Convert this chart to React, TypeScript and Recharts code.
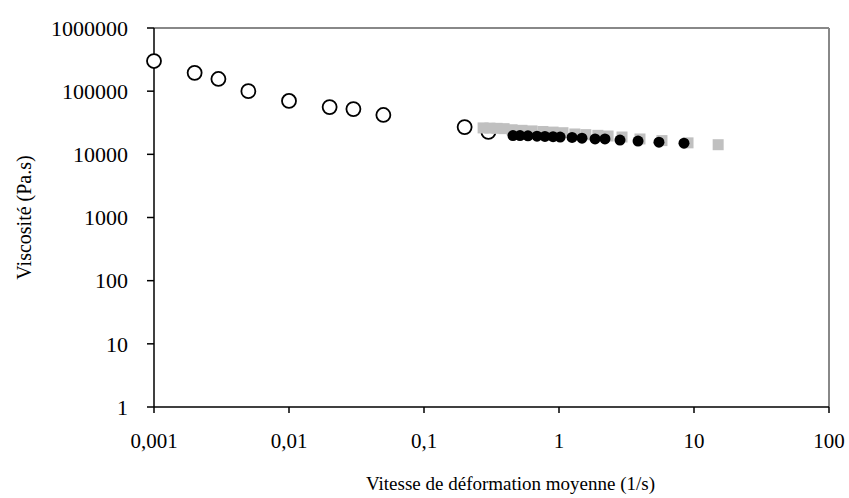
import React from 'react';
import {
  ScatterChart,
  Scatter,
  XAxis,
  YAxis,
  ReferenceLine,
} from 'recharts';

// open circles (low shear rates)
const circleRate = [0.001, 0.002, 0.003, 0.005, 0.01, 0.02, 0.03, 0.05, 0.2, 0.3];
const circleVisc = [300000, 195000, 156000, 100000, 70000, 56000, 52000, 42000, 27000, 22600];

// grey squares
const squareRate = [0.274, 0.308, 0.348, 0.392, 0.449, 0.532, 0.631, 0.76, 0.904, 1.07, 1.31, 1.58, 1.94, 2.31, 2.93, 3.98, 5.79, 9.03, 15.1];
const squareVisc = [26200, 26000, 25800, 25500, 24500, 24000, 23500, 23000, 22500, 22000, 21000, 20500, 20000, 19500, 18800, 17500, 16500, 15200, 14200];

// black dots
const dotRate = [0.456, 0.514, 0.589, 0.687, 0.787, 0.904, 1.02, 1.25, 1.48, 1.85, 2.19, 2.83, 3.85, 5.5, 8.43];
const dotVisc = [19800, 19800, 19600, 19400, 19200, 19000, 18800, 18500, 18000, 17500, 17500, 16800, 16200, 15600, 15000];

const xTicks = [0.001, 0.01, 0.1, 1, 10, 100];
const yTicks = [1, 10, 100, 1000, 10000, 100000, 1000000];

const toPoints = (xs: number[], ys: number[]) => xs.map((x, i) => ({ x, y: ys[i] }));

const circles = toPoints(circleRate, circleVisc);
const squares = toPoints(squareRate, squareVisc);
const dots = toPoints(dotRate, dotVisc);

const font = '"Liberation Serif", "Times New Roman", serif';

const OpenCircle = (props: any) => (
  <circle cx={props.cx} cy={props.cy} r={7} fill="#fff" stroke="#000" strokeWidth={1.8} />
);
const GreySquare = (props: any) => (
  <rect x={props.cx - 5.5} y={props.cy - 5.5} width={11} height={11} fill="#c0c0c0" />
);
const BlackDot = (props: any) => <circle cx={props.cx} cy={props.cy} r={5.5} fill="#000" />;

const fmtX = (v: number) => String(v).replace('.', ',');

export default function App() {
  return (
    <div style={{ position: 'absolute', left: 0, top: 0, background: '#fff' }}>
      <ScatterChart width={849} height={498} margin={{ top: 28, right: 20, left: 0, bottom: 0 }}>
        <XAxis
          type="number"
          dataKey="x"
          scale="log"
          domain={[0.001, 100]}
          ticks={xTicks}
          tickFormatter={fmtX}
          height={91}
          tickSize={6}
          tickMargin={20}
          stroke="#000"
          tick={{ fill: '#000', fontSize: 21, fontFamily: font }}
          axisLine={{ stroke: '#000', strokeWidth: 1.5 }}
          tickLine={{ stroke: '#000', strokeWidth: 1.5 }}
          label={{
            value: 'Vitesse de déformation moyenne (1/s)',
            position: 'insideBottom',
            offset: 8,
            dx: 19,
            fill: '#000',
            fontSize: 19,
            fontFamily: font,
          }}
        />
        <YAxis
          type="number"
          dataKey="y"
          scale="log"
          domain={[1, 1000000]}
          ticks={yTicks}
          width={154}
          tickSize={7}
          tickMargin={19}
          stroke="#000"
          tick={{ fill: '#000', fontSize: 22, fontFamily: font }}
          axisLine={{ stroke: '#000', strokeWidth: 1.5 }}
          tickLine={{ stroke: '#000', strokeWidth: 1.5 }}
          label={{
            value: 'Viscosité (Pa.s)',
            angle: -90,
            position: 'insideLeft',
            offset: 24,
            style: { textAnchor: 'middle' },
            fill: '#000',
            fontSize: 20,
            fontFamily: font,
          }}
        />
        <ReferenceLine y={1000000} stroke="#888" strokeWidth={2} />
        <ReferenceLine x={100} stroke="#888" strokeWidth={2} />
        <Scatter data={circles} shape={OpenCircle} isAnimationActive={false} />
        <Scatter data={squares} shape={GreySquare} isAnimationActive={false} />
        <Scatter data={dots} shape={BlackDot} isAnimationActive={false} />
      </ScatterChart>
    </div>
  );
}
